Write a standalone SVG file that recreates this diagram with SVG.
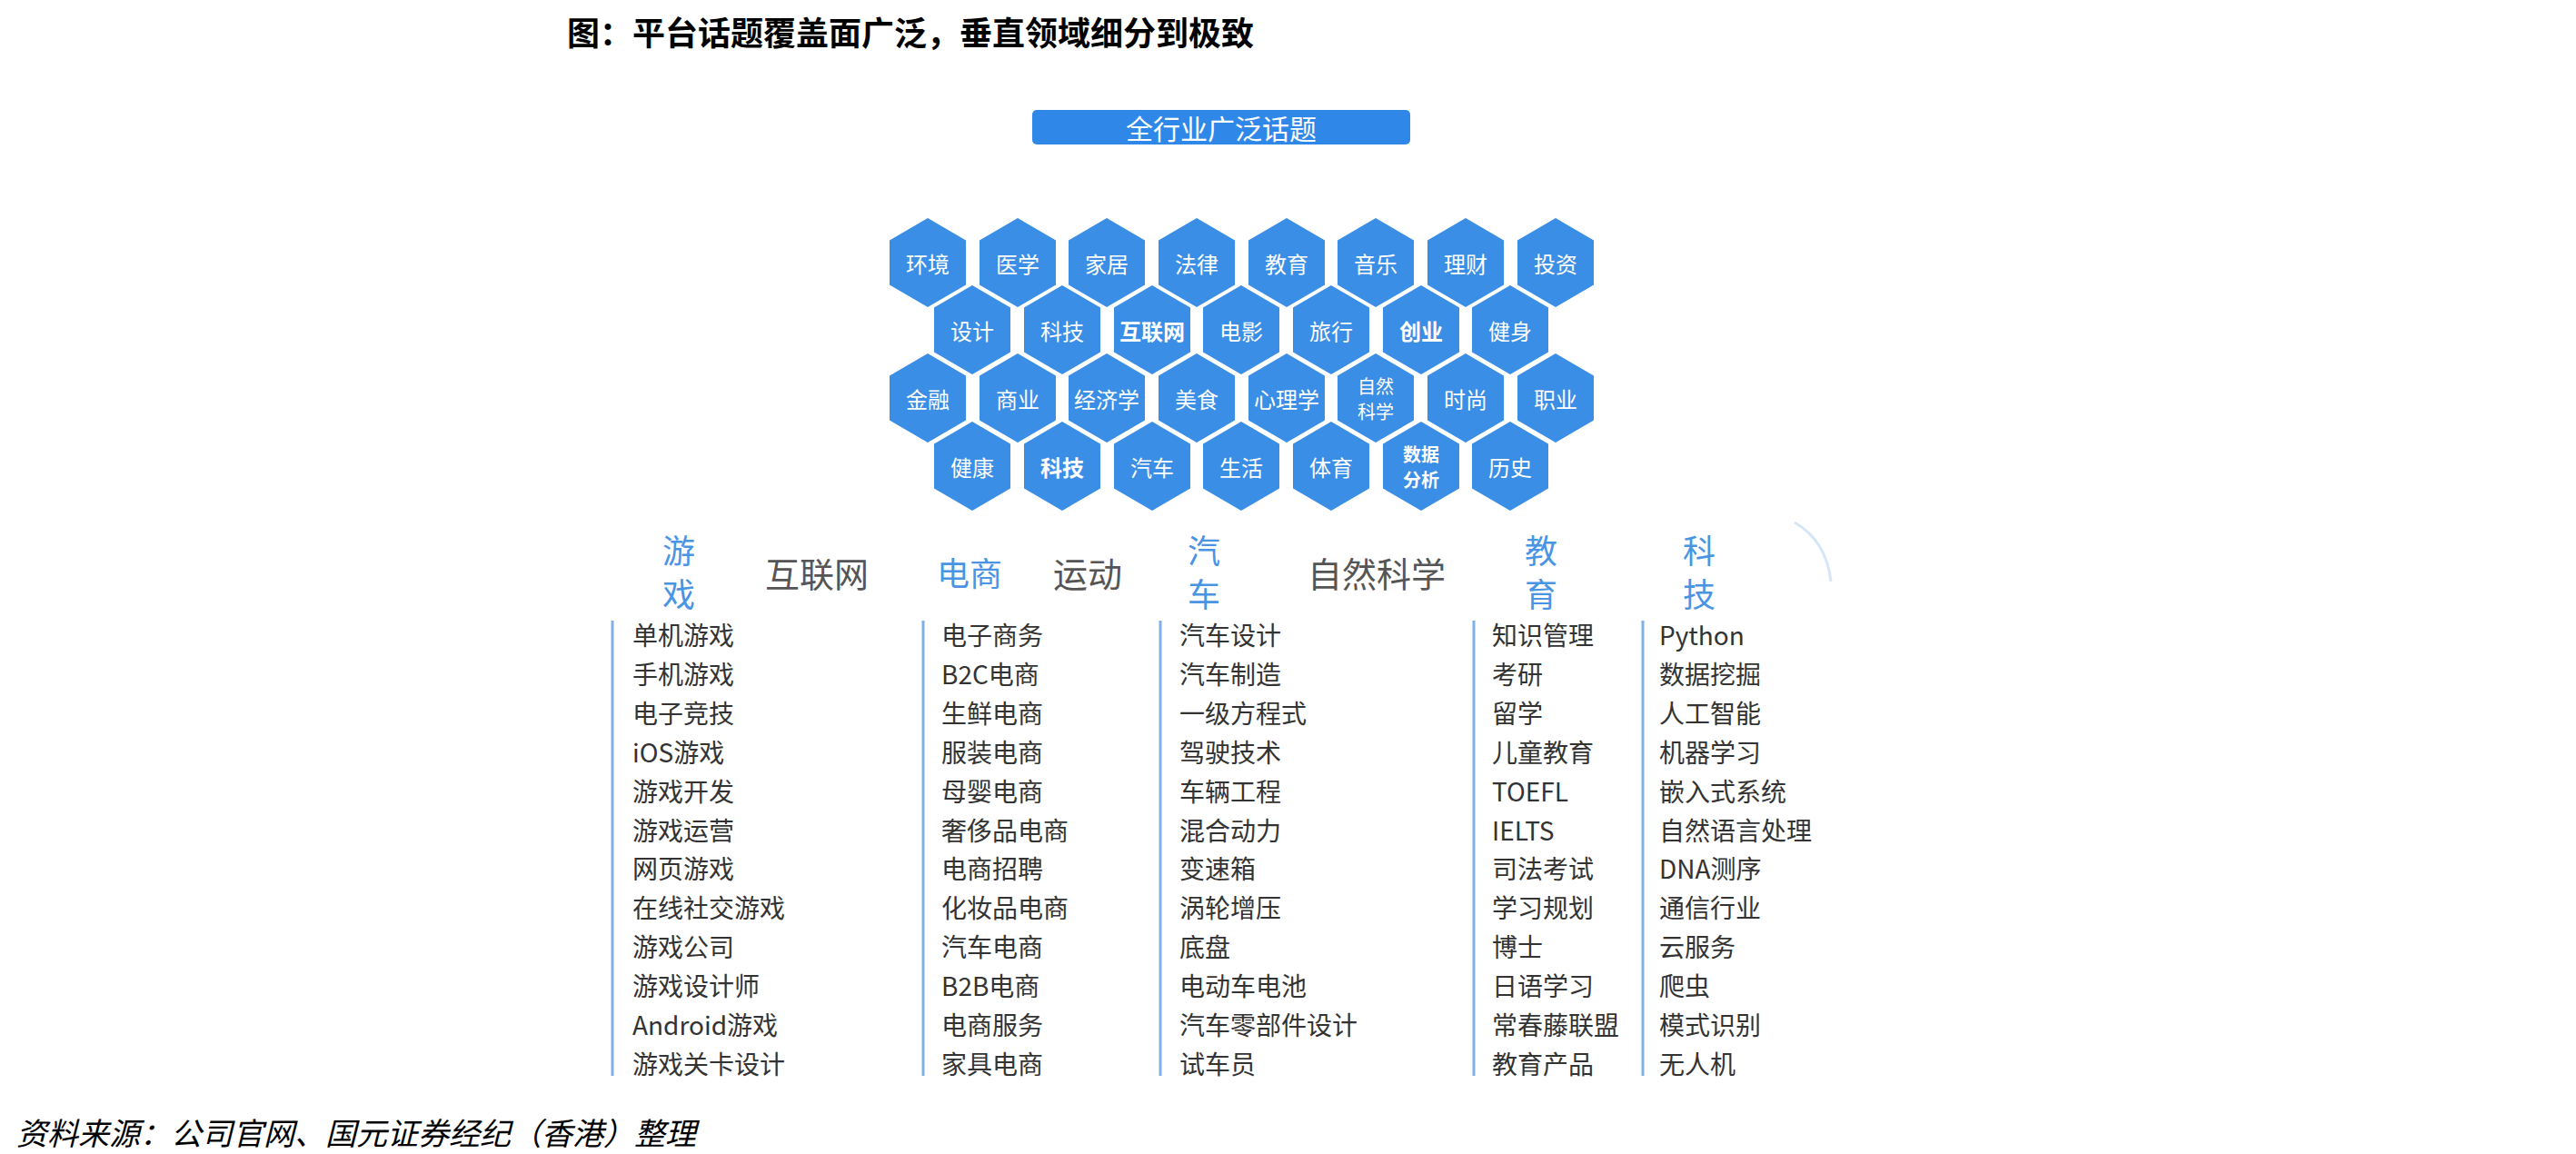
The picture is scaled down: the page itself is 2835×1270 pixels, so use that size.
<svg xmlns="http://www.w3.org/2000/svg" xmlns:xlink="http://www.w3.org/1999/xlink" width="2835" height="1270" viewBox="0 0 2835 1270">
<style>
.t{font-family:"Noto Sans CJK SC","Liberation Sans",sans-serif}
.hx{fill:#3a8ee6}
.ht{fill:#fff;font-size:24px;text-anchor:middle;dominant-baseline:central}
.h2l{font-size:20px}
.b{font-weight:bold}
.hb{font-size:36px;fill:#4a94e4}
.hg{font-size:38px;fill:#555}
.li{font-size:28px;fill:#333}
.vl{stroke:#7fb0e8;stroke-width:3}
</style>
<defs><path id="hex" d="M0,-49L42,-24.5L42,24.5L0,49L-42,24.5L-42,-24.5Z"/></defs>
<rect width="2835" height="1270" fill="#fff"/>
<text class="t b" x="624" y="50" font-size="36" fill="#000">图：平台话题覆盖面广泛，垂直领域细分到极致</text>
<g id="top"><rect x="1136" y="121" width="416" height="38" rx="5" fill="#2f87e8"/><text class="t" x="1344" y="140" font-size="30" fill="#fff" text-anchor="middle" dominant-baseline="central">全行业广泛话题</text></g>
<g id="hexes">
<g id="h1" transform="translate(1021,289)"><use href="#hex" class="hx"/><text class="t ht">环境</text></g>
<g id="h2" transform="translate(1120,289)"><use href="#hex" class="hx"/><text class="t ht">医学</text></g>
<g id="h3" transform="translate(1218,289)"><use href="#hex" class="hx"/><text class="t ht">家居</text></g>
<g id="h4" transform="translate(1317,289)"><use href="#hex" class="hx"/><text class="t ht">法律</text></g>
<g id="h5" transform="translate(1416,289)"><use href="#hex" class="hx"/><text class="t ht">教育</text></g>
<g id="h6" transform="translate(1514,289)"><use href="#hex" class="hx"/><text class="t ht">音乐</text></g>
<g id="h7" transform="translate(1613,289)"><use href="#hex" class="hx"/><text class="t ht">理财</text></g>
<g id="h8" transform="translate(1712,289)"><use href="#hex" class="hx"/><text class="t ht">投资</text></g>
<g id="h9" transform="translate(1070,363)"><use href="#hex" class="hx"/><text class="t ht">设计</text></g>
<g id="h10" transform="translate(1169,363)"><use href="#hex" class="hx"/><text class="t ht">科技</text></g>
<g id="h11" transform="translate(1268,363)"><use href="#hex" class="hx"/><text class="t ht b">互联网</text></g>
<g id="h12" transform="translate(1366,363)"><use href="#hex" class="hx"/><text class="t ht">电影</text></g>
<g id="h13" transform="translate(1465,363)"><use href="#hex" class="hx"/><text class="t ht">旅行</text></g>
<g id="h14" transform="translate(1564,363)"><use href="#hex" class="hx"/><text class="t ht b">创业</text></g>
<g id="h15" transform="translate(1662,363)"><use href="#hex" class="hx"/><text class="t ht">健身</text></g>
<g id="h16" transform="translate(1021,438)"><use href="#hex" class="hx"/><text class="t ht">金融</text></g>
<g id="h17" transform="translate(1120,438)"><use href="#hex" class="hx"/><text class="t ht">商业</text></g>
<g id="h18" transform="translate(1218,438)"><use href="#hex" class="hx"/><text class="t ht">经济学</text></g>
<g id="h19" transform="translate(1317,438)"><use href="#hex" class="hx"/><text class="t ht">美食</text></g>
<g id="h20" transform="translate(1416,438)"><use href="#hex" class="hx"/><text class="t ht">心理学</text></g>
<g id="h21" transform="translate(1514,438)"><use href="#hex" class="hx"/><text class="t ht h2l" y="-14">自然</text><text class="t ht h2l" y="14">科学</text></g>
<g id="h22" transform="translate(1613,438)"><use href="#hex" class="hx"/><text class="t ht">时尚</text></g>
<g id="h23" transform="translate(1712,438)"><use href="#hex" class="hx"/><text class="t ht">职业</text></g>
<g id="h24" transform="translate(1070,513)"><use href="#hex" class="hx"/><text class="t ht">健康</text></g>
<g id="h25" transform="translate(1169,513)"><use href="#hex" class="hx"/><text class="t ht b">科技</text></g>
<g id="h26" transform="translate(1268,513)"><use href="#hex" class="hx"/><text class="t ht">汽车</text></g>
<g id="h27" transform="translate(1366,513)"><use href="#hex" class="hx"/><text class="t ht">生活</text></g>
<g id="h28" transform="translate(1465,513)"><use href="#hex" class="hx"/><text class="t ht">体育</text></g>
<g id="h29" transform="translate(1564,513)"><use href="#hex" class="hx"/><text class="t ht b h2l" y="-14">数据</text><text class="t ht b h2l" y="14">分析</text></g>
<g id="h30" transform="translate(1662,513)"><use href="#hex" class="hx"/><text class="t ht">历史</text></g>
</g>
<path d="M1975,575 Q2010,595 2015,640" fill="none" stroke="#d6e6f7" stroke-width="3"/>
<g id="headers" class="t" text-anchor="middle" dominant-baseline="central">
<text class="hb" x="747" y="604">游</text><text class="hb" x="747" y="652">戏</text>
<text class="hg" x="899" y="629">互联网</text>
<text class="hb" x="1067" y="629">电商</text>
<text class="hg" x="1197" y="629">运动</text>
<text class="hb" x="1325" y="604">汽</text><text class="hb" x="1325" y="652">车</text>
<text class="hg" x="1515" y="629">自然科学</text>
<text class="hb" x="1696" y="604">教</text><text class="hb" x="1696" y="652">育</text>
<text class="hb" x="1870" y="604">科</text><text class="hb" x="1870" y="652">技</text>
</g>
<g id="lines">
<line class="vl" x1="674" y1="683" x2="674" y2="1184"/>
<line class="vl" x1="1016" y1="683" x2="1016" y2="1184"/>
<line class="vl" x1="1277" y1="683" x2="1277" y2="1184"/>
<line class="vl" x1="1622" y1="683" x2="1622" y2="1184"/>
<line class="vl" x1="1808" y1="683" x2="1808" y2="1184"/>
</g>
<g id="lists" class="t li" dominant-baseline="central">
<g transform="translate(696,0)"><text y="698">单机游戏</text><text y="741">手机游戏</text><text y="784">电子竞技</text><text y="827">iOS游戏</text><text y="870">游戏开发</text><text y="913">游戏运营</text><text y="955">网页游戏</text><text y="998">在线社交游戏</text><text y="1041">游戏公司</text><text y="1084">游戏设计师</text><text y="1127">Android游戏</text><text y="1170">游戏关卡设计</text></g>
<g transform="translate(1036,0)"><text y="698">电子商务</text><text y="741">B2C电商</text><text y="784">生鲜电商</text><text y="827">服装电商</text><text y="870">母婴电商</text><text y="913">奢侈品电商</text><text y="955">电商招聘</text><text y="998">化妆品电商</text><text y="1041">汽车电商</text><text y="1084">B2B电商</text><text y="1127">电商服务</text><text y="1170">家具电商</text></g>
<g transform="translate(1298,0)"><text y="698">汽车设计</text><text y="741">汽车制造</text><text y="784">一级方程式</text><text y="827">驾驶技术</text><text y="870">车辆工程</text><text y="913">混合动力</text><text y="955">变速箱</text><text y="998">涡轮增压</text><text y="1041">底盘</text><text y="1084">电动车电池</text><text y="1127">汽车零部件设计</text><text y="1170">试车员</text></g>
<g transform="translate(1642,0)"><text y="698">知识管理</text><text y="741">考研</text><text y="784">留学</text><text y="827">儿童教育</text><text y="870">TOEFL</text><text y="913">IELTS</text><text y="955">司法考试</text><text y="998">学习规划</text><text y="1041">博士</text><text y="1084">日语学习</text><text y="1127">常春藤联盟</text><text y="1170">教育产品</text></g>
<g transform="translate(1826,0)"><text y="698">Python</text><text y="741">数据挖掘</text><text y="784">人工智能</text><text y="827">机器学习</text><text y="870">嵌入式系统</text><text y="913">自然语言处理</text><text y="955">DNA测序</text><text y="998">通信行业</text><text y="1041">云服务</text><text y="1084">爬虫</text><text y="1127">模式识别</text><text y="1170">无人机</text></g>
</g>
<text class="t" x="18" y="1260" font-size="34" font-style="italic" fill="#000">资料来源：公司官网、国元证券经纪（香港）整理</text>
</svg>
